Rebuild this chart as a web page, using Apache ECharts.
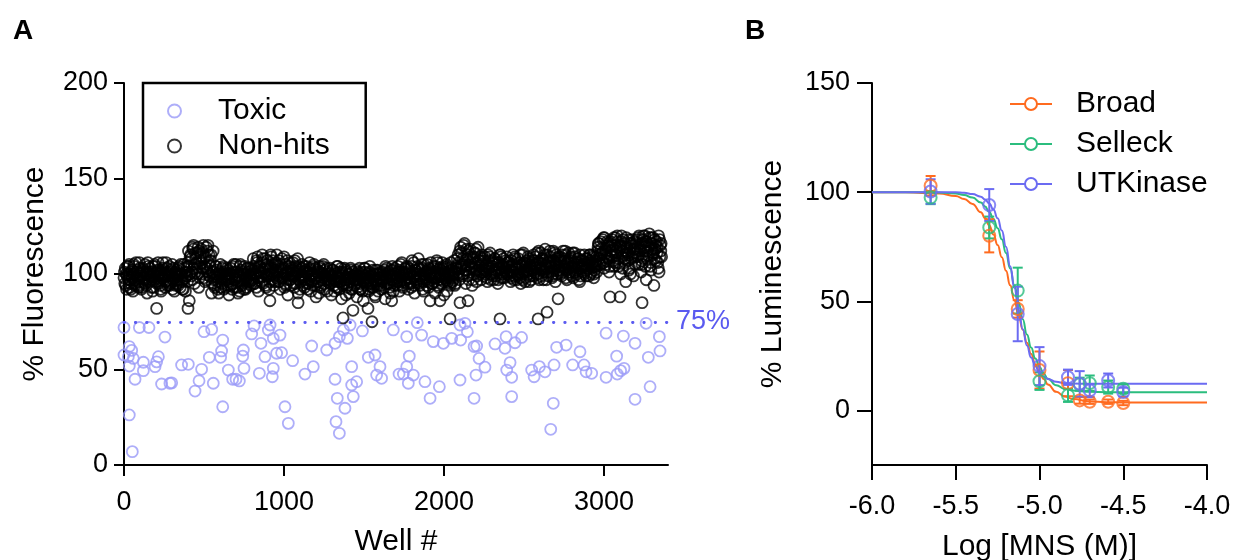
<!DOCTYPE html>
<html>
<head>
<meta charset="utf-8">
<script src="https://cdn.jsdelivr.net/npm/echarts@6/dist/echarts.min.js"></script>
<style>
html,body{margin:0;padding:0;background:#fff;}
#chart{width:1234px;height:560px;}
</style>
</head>
<body>
<div id="chart"></div>
<script>
// ---------- Panel A data ----------
// Non-hit wells are sampled every 8 wells, in three interleaved sets (offsets 0, 3, 5)
const nonHitStep = 8;
const nonHitOffsets = [0, 3, 5];
const nonHitValuesA = [
98,103,92,100,105,95,99,91,104,97,101,94,106,99,93,102,97,100,90,104,
96,101,99,93,105,98,102,95,100,91,103,97,99,106,94,100,96,102,92,98,
101,95,99,104,93,100,97,103,91,99,106,86,110,101,113,95,108,103,114,98,
109,100,115,104,97,112,106,99,110,95,101,93,104,98,90,100,96,103,92,99,
97,102,89,100,95,104,93,98,101,90,99,105,94,97,100,92,103,96,99,94,
102,108,95,100,106,91,104,99,110,97,103,93,107,100,96,109,101,94,105,98,
100,107,92,103,98,109,95,101,89,104,97,100,106,93,99,103,90,101,96,105,
98,93,102,100,95,106,91,99,104,97,88,101,96,103,94,100,105,92,98,101,
97,103,89,99,94,101,96,104,92,98,87,100,95,102,93,97,90,103,96,99,
94,100,88,97,103,92,99,86,101,95,98,91,104,96,93,100,89,97,102,95,
98,92,101,96,87,103,95,99,90,97,102,94,100,96,104,91,99,106,93,101,
97,104,92,100,95,107,98,90,102,96,108,94,99,103,91,100,97,105,93,99,
101,95,104,90,98,106,93,100,97,103,89,99,105,96,101,94,102,98,107,95,
103,110,97,114,105,100,116,95,108,112,101,106,94,109,103,113,99,107,104,97,
105,99,109,102,96,107,111,100,104,97,108,103,95,106,110,101,98,105,102,109,
100,106,96,104,110,99,103,97,108,101,95,105,111,102,98,107,100,104,97,106,
110,101,105,98,112,104,99,107,103,113,97,106,101,109,104,100,111,96,105,108,
102,107,99,112,104,110,97,106,101,109,103,98,111,105,100,108,96,104,107,101,
105,99,108,103,110,101,106,98,104,109,112,116,105,110,118,103,113,107,115,101,
117,109,113,104,119,111,106,115,100,112,118,108,96,114,110,103,116,109,99,113,
111,118,105,114,101,116,108,120,97,112,115,104,119,110,94,113,117,106,101,115,
109
];
const nonHitValuesB = [
101,94,99,104,97,92,102,100,95,106,98,93,103,99,96,101,105,94,100,97,
103,97,91,100,104,96,99,102,94,98,106,100,93,101,97,104,95,99,103,91,
97,102,94,100,105,96,92,101,99,104,112,100,108,97,115,105,101,111,93,107,
113,103,108,96,114,101,110,104,90,98,97,104,100,92,99,105,95,101,98,93,
100,94,98,103,92,101,97,105,96,99,91,102,95,100,104,93,98,101,96,103,
97,104,100,93,109,102,98,106,95,101,108,99,104,92,103,100,107,96,102,110,
104,96,101,108,99,93,105,100,97,106,94,102,99,107,95,101,104,92,98,103,
101,97,104,92,99,103,96,100,105,94,98,102,90,101,97,104,95,99,103,96,
100,95,98,102,91,97,104,93,99,96,101,94,103,89,98,100,96,102,92,99,
97,102,93,99,95,101,91,98,103,96,100,92,99,95,102,97,88,100,94,98,
101,96,99,93,104,98,100,95,102,97,91,103,99,94,101,97,105,98,100,96,
100,95,103,98,93,101,106,97,100,104,95,99,102,92,105,98,101,96,103,100,
98,103,96,100,107,94,99,102,95,104,100,97,91,103,98,106,96,100,94,103,
108,101,112,104,99,115,106,102,110,97,113,104,108,100,111,96,106,102,109,101,
101,107,104,98,110,103,100,106,99,108,102,105,97,103,109,100,104,98,107,101,
104,99,107,101,97,109,103,100,106,98,104,110,101,96,105,102,108,99,103,107,
104,109,100,106,97,111,103,108,101,105,110,99,104,107,98,112,102,106,100,109,
106,100,110,103,108,98,105,111,101,107,99,104,109,102,106,97,110,103,105,100,
102,108,104,99,107,103,110,100,105,101,114,108,117,111,106,119,112,109,116,104,
112,118,107,115,110,120,104,113,117,109,114,106,119,111,102,116,108,118,113,105,
116,109,120,112,107,118,114,104,117,110,121,106,113,119,108,115,111,103,118,112
];
const nonHitValuesC = [
95,100,104,97,93,101,98,105,94,99,102,96,100,92,103,98,95,101,106,99,
99,93,104,97,101,95,106,99,92,102,98,100,96,103,99,94,101,105,97,100,
94,100,103,97,99,92,105,98,101,96,104,109,99,114,103,111,106,100,112,104,
106,111,98,109,103,115,99,107,101,112,94,99,102,96,101,93,98,104,97,100,
103,96,100,94,99,105,97,101,93,98,104,96,101,92,99,97,103,95,100,98,
100,95,103,107,98,104,101,96,108,100,94,105,99,102,110,97,103,99,106,101,
96,102,105,98,103,100,94,107,101,97,103,99,95,104,100,108,97,102,99,94,
104,99,95,101,97,102,100,94,98,103,99,96,104,93,100,98,102,97,91,99,
95,99,102,97,100,93,98,101,96,103,99,95,97,101,94,100,98,92,101,97,
99,95,101,97,92,100,96,103,98,94,97,101,95,99,93,98,102,96,91,100,
94,100,97,102,98,95,101,93,99,104,97,100,95,98,102,96,101,94,99,103,
103,98,101,96,104,99,94,102,97,100,103,98,105,96,99,101,94,102,97,106,
95,100,98,104,101,97,103,99,106,96,101,98,104,100,95,102,99,97,101,104,
100,106,103,111,108,104,102,113,99,105,109,103,97,111,106,102,114,100,107,110,
108,102,100,105,103,109,97,104,107,101,99,106,102,110,98,104,108,103,100,106,
106,102,98,105,101,108,104,99,103,110,100,97,106,104,101,109,96,105,102,99,
107,103,111,100,106,102,108,97,110,104,101,106,112,103,99,107,105,110,102,104,
109,104,101,107,112,102,106,100,108,104,111,106,101,105,108,103,99,107,104,110,
108,103,106,110,100,105,109,102,107,104,116,110,113,107,119,110,105,117,108,114,
110,115,119,106,112,117,108,114,120,103,110,116,112,107,118,100,115,111,117,109,
113,119,110,116,105,120,112,117,108,114,119,102,116,111,118,107,114,120,109,116
];
const nonHitOutliers = [
[204,82],[400,82],[912,86],[1088,85],[1369,77],[1431,81],[1525,82],[1550,75],
[1673,86],[1913,86],[1975,86],[2038,76.5],[2100,85],[2150,86],[2350,76.5],
[2588,76.5],[2644,80],[2713,87],[3038,88],[3100,88],[3238,85]
];
const toxicPoints = [
[0,72],[96,72],[156,72],[256,67],[33,62],[48,60],[0,57.6],[27,56.7],[58,55.8],[33,51.8],
[121,53.8],[121,49.4],[194,51.5],[215,56.7],[204,54],[69,44.9],[235,42.4],[287,42.8],[298,43],[33,26.2],
[52,7],[360,52.4],[402,52.7],[444,38.7],[469,44.1],[485,50.1],[500,69.8],[548,71],[533,56.4],[558,42.8],
[617,65.4],[610,59.7],[604,56.4],[617,30.5],[652,49.7],[679,44.9],[721,44],[700,44.9],[746,60.2],[742,57],
[750,50.6],[798,68.6],[813,72.8],[856,63.7],[846,48],[881,56.7],[913,73.3],[902,70.7],[933,66.3],[975,68],
[954,58.5],[985,58.8],[933,50.6],[927,46.2],[1054,54.6],[1006,30.5],[1027,21.8],[1131,47.6],[1173,62.3],[1183,51.5],
[1267,60.2],[1319,63.7],[1346,67.2],[1371,70.7],[1396,66.3],[1413,73.3],[1490,70.2],[1319,44.9],[1333,34.9],[1325,22.7],
[1346,16.6],[1381,29.7],[1433,35.8],[1423,41.9],[1454,43.6],[1423,51.5],[1527,56.4],[1569,57.6],[1600,51.5],[1579,47.1],
[1610,45.4],[1683,70.7],[1719,47.6],[1767,67.2],[1833,74.5],[1860,68],[1933,64.6],[1996,63.7],[2048,66.3],[2100,73.3],
[2131,74.2],[2146,69.8],[2104,65.4],[2188,62],[2204,62.3],[2219,55.8],[2256,51.2],[2200,47.1],[2100,44.5],[2188,34.9],
[1783,57],[1767,51.5],[1746,47.6],[1777,42.8],[1808,47.1],[1881,43.6],[1971,41],[1913,34.9],[2319,63.4],[2388,67.2],
[2444,64],[2485,66.8],[2381,61.1],[2413,53.6],[2392,49.7],[2423,45.9],[2423,35.8],[2548,49.7],[2596,51.5],[2563,46.2],
[2631,48.8],[2688,52.4],[2683,32.3],[2667,18.7],[2704,61.6],[2763,62.8],[2804,52.4],[2850,59.3],[2875,52.4],[2888,48.8],
[2923,48],[3013,69],[3013,45.9],[3079,57],[3083,47.6],[3104,49.4],[3125,50.6],[3121,67.5],[3194,63.7],[3263,74.2],
[3277,56.4],[3288,41],[3194,34.4],[3346,67.2],[3350,59.7]
];
const toxicThreshold = 75;
const wellTicks = [0,1000,2000,3000];
const fluorTicks = [0,50,100,150,200];

// ---------- Panel B data ----------
const doseLog = [-5.65,-5.30,-5.13,-5.00,-4.83,-4.76,-4.70,-4.59,-4.50];
const broadMean = [102.9,80.0,46.5,18.5,12.5,4.6,4.0,4.0,3.4];
const broadErr  = [4.5,7.6,4,8.5,6,1.5,1,1,1];
const selleckMean = [97.5,83.8,54.9,13.4,6.9,12,12.5,10.7,9.9];
const selleckErr  = [3,5,10.5,4,3,3,3.5,3,2];
const utMean = [100.3,94.1,44.2,20.3,15.2,12.2,9.1,13.7,8.4];
const utErr  = [5.6,7.3,12.5,8.7,3.5,5.8,3,3.2,2];
const fitX = [-6.0,-5.8,-5.6,-5.5,-5.45,-5.4,-5.35,-5.325,-5.3,-5.275,-5.25,-5.225,-5.2,-5.175,-5.15,-5.125,-5.1,-5.075,-5.05,-5.025,-5.0,-4.975,-4.95,-4.9,-4.85,-4.8,-4.7,-4.6,-4.5,-4.25,-4.0];
const broadFit = [100.0,99.9,99.4,98.2,96.9,94.6,90.8,88.1,84.7,80.6,75.8,70.2,64.0,57.3,50.4,43.6,37.0,31.0,25.8,21.2,17.5,14.4,11.9,8.5,6.4,5.2,4.1,3.8,3.65,3.6,3.6];
const selleckFit = [100,100,99.8,99.4,98.7,97.5,95.2,93.4,90.9,87.7,83.5,78.4,72.1,65.0,57.3,49.4,41.8,34.8,28.8,23.8,19.9,16.8,14.5,11.5,9.9,9.1,8.5,8.35,8.3,8.3,8.3];
const utFit = [100,100,100,99.9,99.7,99.1,97.9,96.6,94.8,92.0,88.0,82.4,75.0,66.0,56.1,46.2,37.2,29.8,24.2,20.2,17.4,15.6,14.4,13.1,12.5,12.3,12.2,12.2,12.2,12.2,12.2];
const lumTicks = [0,50,100,150];

// ---------- styles ----------
const FONT = "'Liberation Sans', Arial, sans-serif";
const C_TOXIC = '#9a9af8';
const C_LINE75 = '#5a5af0';
const C_BROAD = '#ff6b1f';
const C_SELLECK = '#2bbd7e';
const C_UT = '#6b6bf2';

const chart = echarts.init(document.getElementById('chart'), null, {renderer:'canvas'});

function axisCommon(){
  return {
    axisLine:{onZero:false, lineStyle:{color:'#000', width:2}},
    splitLine:{show:false},
    nameTextStyle:{color:'#000', fontSize:30, fontFamily:FONT},
    nameLocation:'middle'
  };
}
function ticks(len, custom){
  const t = {length:len, lineStyle:{color:'#000', width:2}};
  if (custom) t.customValues = custom;
  return t;
}
function labels(margin, custom, formatter){
  const l = {color:'#000', fontSize:27, fontFamily:FONT, margin};
  if (custom) l.customValues = custom;
  if (formatter) l.formatter = formatter;
  return l;
}

function errSeries(name, color, mean, err){
  const data = doseLog.map((x,i)=>[x, mean[i]-err[i], mean[i]+err[i]]);
  return {
    name, type:'custom', xAxisIndex:1, yAxisIndex:1, data,
    encode:{x:0, y:[1,2]},
    renderItem(params, api){
      const x = api.value(0);
      const lo = api.coord([x, api.value(1)]);
      const hi = api.coord([x, api.value(2)]);
      const hw = 5;
      const st = {stroke:color, lineWidth:2};
      return {type:'group', children:[
        {type:'line', shape:{x1:lo[0],y1:lo[1],x2:hi[0],y2:hi[1]}, style:st},
        {type:'line', shape:{x1:lo[0]-hw,y1:lo[1],x2:lo[0]+hw,y2:lo[1]}, style:st},
        {type:'line', shape:{x1:hi[0]-hw,y1:hi[1],x2:hi[0]+hw,y2:hi[1]}, style:st}
      ]};
    },
    z:3
  };
}
function fitSeries(name, color, fit){
  return {
    name, type:'line', xAxisIndex:1, yAxisIndex:1,
    data: fitX.map((x,i)=>[x, fit[i]]),
    smooth:true, smoothMonotone:'x',
    symbol:'emptyCircle', showSymbol:false,
    lineStyle:{color, width:2}, itemStyle:{color},
    z:2
  };
}
function pointSeries(name, color, mean){
  return {
    name, type:'scatter', xAxisIndex:1, yAxisIndex:1,
    data: doseLog.map((x,i)=>[x, mean[i]]),
    symbol:'circle', symbolSize:12,
    itemStyle:{color:'rgba(255,255,255,0)', borderColor:color, borderWidth:2},
    z:4
  };
}

const nonHitData = []
  .concat(nonHitValuesA.map((v,i)=>[nonHitOffsets[0] + i*nonHitStep, v]))
  .concat(nonHitValuesB.map((v,i)=>[nonHitOffsets[1] + i*nonHitStep, v]))
  .concat(nonHitValuesC.map((v,i)=>[nonHitOffsets[2] + i*nonHitStep, v]))
  .concat(nonHitOutliers);

const option = {
  animation:false,
  backgroundColor:'#fff',
  textStyle:{fontFamily:FONT},
  title:[
    {text:'A', left:8, top:12, textStyle:{fontSize:28, fontWeight:'bold', color:'#000', fontFamily:FONT}},
    {text:'B', left:740, top:12, textStyle:{fontSize:28, fontWeight:'bold', color:'#000', fontFamily:FONT}}
  ],
  legend:[
    {
      data:['Toxic','Non-hits'], orient:'vertical', left:143, top:83,
      padding:[13,36,6,24], itemGap:5, itemWidth:13, itemHeight:13,
      borderColor:'#000', borderWidth:2.5, borderRadius:0,
      textStyle:{fontSize:30, color:'#000', fontFamily:FONT, lineHeight:30, padding:[0,0,0,32]},
      selectedMode:false
    },
    {
      data:['Broad','Selleck','UTKinase'], orient:'vertical', left:1009, top:89,
      padding:0, itemGap:10, itemWidth:42, itemHeight:15,
      textStyle:{fontSize:30, color:'#000', fontFamily:FONT, lineHeight:30, padding:[0,0,0,19]},
      selectedMode:false
    }
  ],
  grid:[
    {left:124, top:83, width:544, height:382, outerBoundsMode:'none', containLabel:false},
    {left:872, top:83, width:335, height:382, outerBoundsMode:'none', containLabel:false}
  ],
  xAxis:[
    Object.assign(axisCommon(), {
      gridIndex:0, type:'value', min:0, max:3400, name:'Well #', nameGap:62,
      axisTick:ticks(11, wellTicks),
      axisLabel:labels(24, wellTicks, v=>String(v))
    }),
    Object.assign(axisCommon(), {
      gridIndex:1, type:'value', min:-6, max:-4, interval:0.5, name:'Log [MNS (M)]', nameGap:67,
      axisTick:ticks(15),
      axisLabel:labels(28, null, v=>v.toFixed(1))
    })
  ],
  yAxis:[
    Object.assign(axisCommon(), {
      gridIndex:0, type:'value', min:0, max:200, interval:50, name:'% Fluorescence', nameGap:74,
      axisTick:ticks(10, fluorTicks),
      axisLabel:labels(16, fluorTicks)
    }),
    Object.assign(axisCommon(), {
      gridIndex:1, type:'value', min:-25, max:150, name:'% Luminescence', nameGap:84,
      axisTick:ticks(15, lumTicks),
      axisLabel:labels(22, lumTicks)
    })
  ],
  series:[
    {
      name:'Toxic', type:'scatter', xAxisIndex:0, yAxisIndex:0,
      data:toxicPoints, symbol:'circle', symbolSize:11,
      itemStyle:{color:'rgba(255,255,255,0)', borderColor:C_TOXIC, borderWidth:1.8},
      markLine:{
        silent:true, symbol:'none',
        lineStyle:{color:C_LINE75, width:2.8, type:[0.5,10.8], cap:'round'},
        label:{show:true, position:'end', distance:8, formatter:'75%', fontSize:27, color:C_LINE75, fontFamily:FONT},
        data:[{yAxis:toxicThreshold}]
      },
      z:2
    },
    {
      name:'Non-hits', type:'scatter', xAxisIndex:0, yAxisIndex:0,
      data:nonHitData,
      symbol:'circle', symbolSize:11,
      itemStyle:{color:'rgba(255,255,255,0)', borderColor:'#000', borderWidth:1.8},
      z:3
    },
    fitSeries('Broad', C_BROAD, broadFit),
    fitSeries('Selleck', C_SELLECK, selleckFit),
    fitSeries('UTKinase', C_UT, utFit),
    errSeries('Broad', C_BROAD, broadMean, broadErr),
    errSeries('Selleck', C_SELLECK, selleckMean, selleckErr),
    errSeries('UTKinase', C_UT, utMean, utErr),
    pointSeries('Broad', C_BROAD, broadMean),
    pointSeries('Selleck', C_SELLECK, selleckMean),
    pointSeries('UTKinase', C_UT, utMean)
  ]
};
chart.setOption(option);
</script>
</body>
</html>
